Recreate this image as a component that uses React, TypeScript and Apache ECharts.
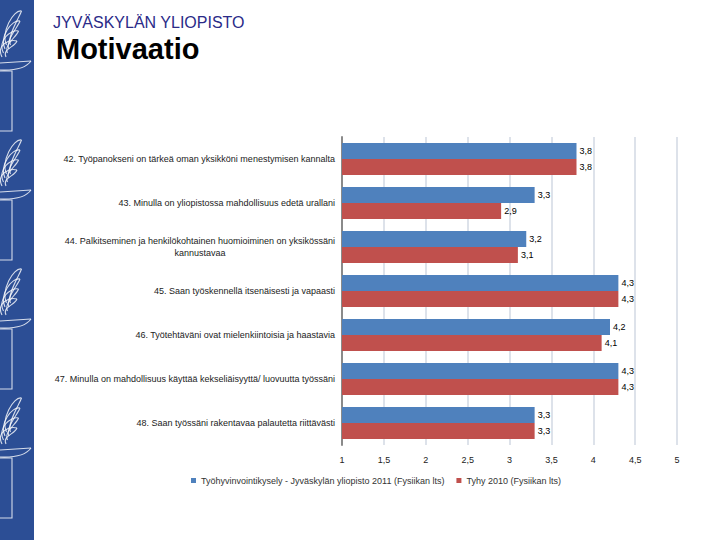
import { useEffect, useRef } from 'react'
import * as echarts from 'echarts'

const categories = [
  '42. Työpanokseni on tärkeä oman yksikköni menestymisen kannalta',
  '43. Minulla on yliopistossa mahdollisuus edetä urallani',
  '44. Palkitseminen ja henkilökohtainen huomioiminen on yksikössäni\nkannustavaa',
  '45. Saan työskennellä itsenäisesti ja vapaasti',
  '46. Työtehtäväni ovat mielenkiintoisia ja haastavia',
  '47. Minulla on mahdollisuus käyttää kekseliäisyyttä/ luovuutta työssäni',
  '48. Saan työssäni rakentavaa palautetta riittävästi'
]
const series2011 = [3.8, 3.3, 3.2, 4.3, 4.2, 4.3, 3.3]
const series2010 = [3.8, 2.9, 3.1, 4.3, 4.1, 4.3, 3.3]
const seriesNames = [
  'Työhyvinvointikysely - Jyväskylän yliopisto 2011 (Fysiikan lts)',
  'Tyhy 2010 (Fysiikan lts)'
]

const FONT = "'Liberation Sans', Arial, sans-serif"
const comma = (v: number) => String(v).replace('.', ',')

// koriste: soihtu sivupalkissa
function torch(y0: number) {
  const st = { stroke: 'rgba(255,255,255,0.8)', fill: 'none', lineWidth: 1.1 }
  const els: any[] = []
  for (let i = 0; i < 4; i++) {
    const tipX = 17 + i * 1.5
    const tipY = y0 - 22 - i * 10
    const bx = 2 + i * 1.5
    const by = y0 - 6 - i * 4
    // liekin kieli: ulko- ja sisäreuna
    els.push({
      type: 'bezierCurve',
      shape: { x1: bx, y1: by, cpx1: bx - 6, cpy1: by - 12, cpx2: tipX - 8, cpy2: tipY - 2, x2: tipX, y2: tipY },
      style: st
    })
    els.push({
      type: 'bezierCurve',
      shape: { x1: bx + 4, y1: by, cpx1: bx, cpy1: by - 8, cpx2: tipX - 2, cpy2: tipY + 6, x2: tipX, y2: tipY },
      style: st
    })
  }
  els.push({ type: 'line', shape: { x1: 0, y1: y0, x2: 31, y2: y0 - 2 }, style: st })
  els.push({
    type: 'bezierCurve',
    shape: { x1: 31, y1: y0 - 2, cpx1: 24, cpy1: y0 + 8, x2: 0, y2: y0 + 7 },
    style: st
  })
  els.push({ type: 'rect', shape: { x: -2, y: y0 + 8, width: 14, height: 60 }, style: st })
  return els
}

export default function App() {
  const chartRef = useRef<HTMLDivElement>(null)

  useEffect(() => {
    if (!chartRef.current) return
    const chart = echarts.init(chartRef.current, undefined, { renderer: 'svg' })

    const graphics: any[] = [
      { type: 'rect', shape: { x: 0, y: 0, width: 34, height: 540 }, style: { fill: '#2c4e95' } }
    ]
    ;[63, 192, 321, 450].forEach((y) => graphics.push(...torch(y)))
    graphics.push(
      {
        type: 'text', x: 53, y: 14,
        style: { text: 'JYVÄSKYLÄN YLIOPISTO', fill: '#2a2a88', fontSize: 16, fontFamily: FONT }
      },
      {
        type: 'text', x: 56, y: 34,
        style: { text: 'Motivaatio', fill: '#000', fontSize: 29, fontWeight: 'bold', fontFamily: FONT }
      }
    )

    const labelOpt = {
      show: true,
      position: 'right',
      distance: 3,
      fontSize: 9,
      color: '#000',
      fontFamily: FONT,
      formatter: (p: any) => p.value.toFixed(1).replace('.', ',')
    }

    chart.setOption({
      animation: false,
      textStyle: { fontFamily: FONT },
      graphic: graphics,
      grid: { left: 342, right: 43, top: 137, bottom: 95 },
      legend: {
        left: 186,
        top: 471,
        icon: 'rect',
        itemWidth: 5,
        itemHeight: 5,
        itemGap: 12,
        textStyle: { fontSize: 9, color: '#333', fontFamily: FONT },
        data: seriesNames
      },
      xAxis: {
        type: 'value',
        min: 1,
        max: 5,
        interval: 0.5,
        axisLine: { show: false },
        axisTick: { show: false },
        splitLine: { show: true, lineStyle: { color: '#dde2ea', width: 2 } },
        axisLabel: { fontSize: 9, color: '#222', margin: 10, formatter: comma }
      },
      yAxis: {
        type: 'category',
        inverse: true,
        data: categories,
        axisLine: { show: true, lineStyle: { color: '#8a8a8a', width: 2 } },
        axisTick: { show: false },
        axisLabel: {
          margin: 7,
          fontSize: 9,
          color: '#222',
          formatter: (v: string) => v.split('\n').map((s) => `{c|${s}}`).join('\n'),
          rich: { c: { align: 'center', fontSize: 9, lineHeight: 12, color: '#222', fontFamily: FONT } }
        }
      },
      series: [
        {
          name: seriesNames[0],
          type: 'bar',
          data: series2011,
          barWidth: 16,
          barGap: '0%',
          itemStyle: { color: '#4f81bd' },
          label: labelOpt
        },
        {
          name: seriesNames[1],
          type: 'bar',
          data: series2010,
          barWidth: 16,
          itemStyle: { color: '#c0504d' },
          label: labelOpt
        }
      ]
    })

    return () => chart.dispose()
  }, [])

  return (
    <div
      ref={chartRef}
      style={{ position: 'fixed', left: 0, top: 0, width: 720, height: 540, background: '#fff' }}
    />
  )
}
